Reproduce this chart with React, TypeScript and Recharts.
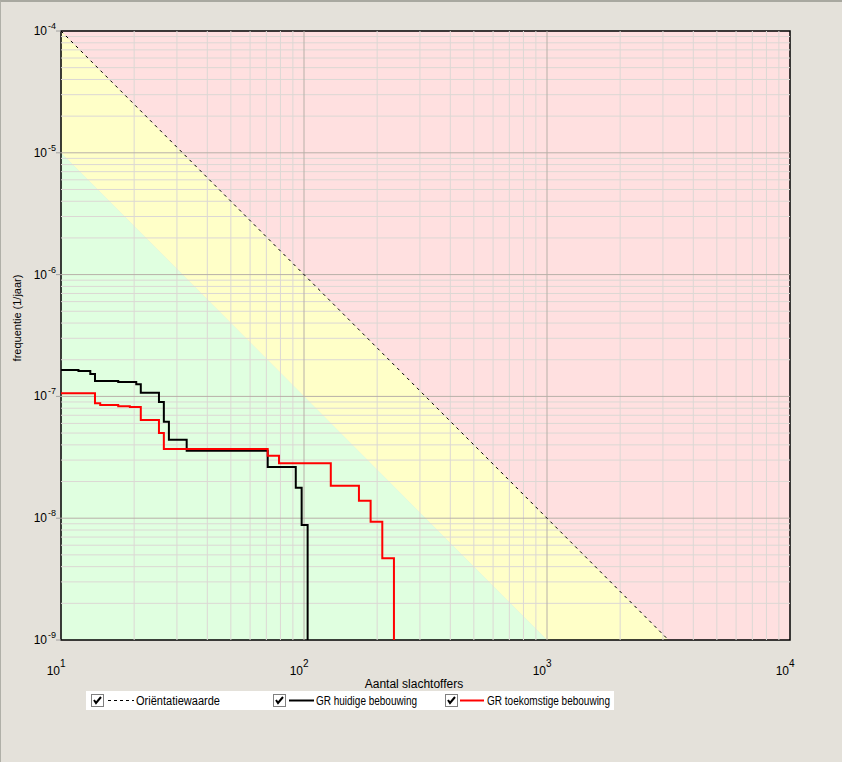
import React from 'react';
import { ComposedChart, Line, Area, XAxis, YAxis, ReferenceLine, ReferenceArea } from 'recharts';

// Zone boundaries (N, frequency)
const zoneN = [10, 10000];
const orientF = [1e-4, 1e-10];
const greenF = [1e-5, 1e-11];
const topF = [1e-4, 1e-4];
const floorF = [1e-9, 1e-9];

// GR huidige bebouwing (step)
const huidigeN = [10, 11.8, 13.2, 13.8, 17.2, 20.4, 21.3, 25.3, 26.5, 27.8, 32.9, 70.9, 92.5, 97.8, 103.5, 103.5];
const huidigeF = [1.65e-7, 1.62e-7, 1.53e-7, 1.34e-7, 1.31e-7, 1.26e-7, 1.07e-7, 9.0e-8, 6.2e-8, 4.4e-8, 3.58e-8, 2.63e-8, 1.78e-8, 8.8e-9, 8.8e-9, 1e-9];

// GR toekomstige bebouwing (step)
const toekomstN = [10, 13.8, 14.5, 17.2, 19.2, 21.3, 25.3, 26.5, 70.9, 78.9, 128.9, 168.3, 188, 210, 234.5, 234.5];
const toekomstF = [1.06e-7, 8.77e-8, 8.5e-8, 8.3e-8, 8.2e-8, 6.4e-8, 5.0e-8, 3.7e-8, 3.26e-8, 2.82e-8, 1.85e-8, 1.39e-8, 9.35e-9, 4.69e-9, 4.69e-9, 1e-9];

const xTicks = [10, 100, 1000, 10000];
const yTicks = [1e-9, 1e-8, 1e-7, 1e-6, 1e-5, 1e-4];
const xMinor = [20, 30, 40, 50, 60, 70, 80, 90, 200, 300, 400, 500, 600, 700, 800, 900, 2000, 3000, 4000, 5000, 6000, 7000, 8000, 9000];
const xMajor = [100, 1000];
const yMinor = [
  2e-9, 3e-9, 4e-9, 5e-9, 6e-9, 7e-9, 8e-9, 9e-9,
  2e-8, 3e-8, 4e-8, 5e-8, 6e-8, 7e-8, 8e-8, 9e-8,
  2e-7, 3e-7, 4e-7, 5e-7, 6e-7, 7e-7, 8e-7, 9e-7,
  2e-6, 3e-6, 4e-6, 5e-6, 6e-6, 7e-6, 8e-6, 9e-6,
  2e-5, 3e-5, 4e-5, 5e-5, 6e-5, 7e-5, 8e-5, 9e-5,
];
const yMajor = [1e-8, 1e-7, 1e-6, 1e-5];

const legendLabels = ['Oriëntatiewaarde', 'GR huidige bebouwing', 'GR toekomstige bebouwing'];

const pinkData = zoneN.map((n, i) => ({ n, r: [orientF[i], topF[i]] }));
const yellowData = zoneN.map((n, i) => ({ n, r: [greenF[i], orientF[i]] }));
const greenData = zoneN.map((n, i) => ({ n, r: [floorF[i], greenF[i]] }));
const orientData = zoneN.map((n, i) => ({ n, f: orientF[i] }));
const huidigeData = huidigeN.map((n, i) => ({ n, f: huidigeF[i] }));
const toekomstData = toekomstN.map((n, i) => ({ n, f: toekomstF[i] }));

const FONT = '"Liberation Sans", Arial, sans-serif';

const XTick = (props: any) => {
  const { x, payload } = props;
  const e = Math.round(Math.log10(payload.value));
  return (
    <g>
      <text x={x - 1} y={675} textAnchor="end" fontSize={12} fontFamily={FONT} fill="#000">10</text>
      <text x={x - 1} y={667} textAnchor="start" fontSize={10} fontFamily={FONT} fill="#000">{e}</text>
    </g>
  );
};

const YTick = (props: any) => {
  const { y, payload } = props;
  const e = Math.round(Math.log10(payload.value));
  return (
    <g>
      <line x1={56} x2={61} y1={y} y2={y} stroke="#a0a0a0" strokeWidth={1} />
      <text x={47} y={y + 4} textAnchor="end" fontSize={12} fontFamily={FONT} fill="#000">10</text>
      <text x={48} y={y - 2} textAnchor="start" fontSize={9} fontFamily={FONT} fill="#000">{e}</text>
    </g>
  );
};

const CheckBox = ({ x }: { x: number }) => (
  <g transform={`translate(${x},3)`}>
    <rect x={0.5} y={0.5} width={12} height={12} fill="#fff" stroke="#808080" />
    <path d="M3 6 L5 9 L10 3" stroke="#000" strokeWidth={2} fill="none" />
  </g>
);

const LegendBox = () => (
  <svg width={640} height={19} style={{ display: 'block', position: 'absolute', left: 86, top: 691, overflow: 'visible' }}>
    <rect x={0} y={0} width={528} height={19} fill="#fff" />
    <CheckBox x={5} />
    <line x1={22} x2={48} y1={9.5} y2={9.5} stroke="#000" strokeWidth={1} strokeDasharray="3 3" />
    <text x={50} y={14} fontSize={12} fontFamily={FONT} fill="#000" textLength={84} lengthAdjust="spacingAndGlyphs">{legendLabels[0]}</text>
    <CheckBox x={187} />
    <line x1={203} x2={228} y1={9.5} y2={9.5} stroke="#000" strokeWidth={2} />
    <text x={230} y={14} fontSize={12} fontFamily={FONT} fill="#000" textLength={101} lengthAdjust="spacingAndGlyphs">{legendLabels[1]}</text>
    <CheckBox x={359} />
    <line x1={374} x2={398} y1={9.5} y2={9.5} stroke="#ff0000" strokeWidth={2} />
    <text x={401} y={14} fontSize={12} fontFamily={FONT} fill="#000" textLength={123} lengthAdjust="spacingAndGlyphs">{legendLabels[2]}</text>
  </svg>
);

export default function App() {
  return (
    <div style={{ position: 'absolute', left: 0, top: 0, width: 842, height: 762, background: '#e4e1da', borderTop: '2px solid #a8a8a0', borderLeft: '1px solid #b0b0a8', boxSizing: 'border-box' }}>
      <div style={{ position: 'absolute', left: -1, top: -2 }}>
        <ComposedChart width={842} height={762} margin={{ top: 31, right: 52, bottom: 0, left: 0 }}>
          <XAxis
            dataKey="n"
            type="number"
            scale="log"
            domain={[10, 10000]}
            ticks={xTicks}
            allowDataOverflow
            height={122}
            axisLine={false}
            tickLine={false}
            tick={<XTick />}
            interval={0}
          />
          <YAxis
            type="number"
            scale="log"
            domain={[1e-9, 1e-4]}
            ticks={yTicks}
            allowDataOverflow
            width={61}
            axisLine={false}
            tickLine={false}
            tick={<YTick />}
            interval={0}
          />
          <Area data={pinkData} dataKey="r" type="linear" fill="#ffe0e0" fillOpacity={1} stroke="none" isAnimationActive={false} />
          <Area data={yellowData} dataKey="r" type="linear" fill="#ffffc8" fillOpacity={1} stroke="none" isAnimationActive={false} />
          <Area data={greenData} dataKey="r" type="linear" fill="#e0ffe0" fillOpacity={1} stroke="none" isAnimationActive={false} />
          {xMinor.map((v) => (
            <ReferenceLine key={'xm' + v} x={v} stroke="#dcd8d4" strokeWidth={1} />
          ))}
          {yMinor.map((v) => (
            <ReferenceLine key={'ym' + v} y={v} stroke="#dcd8d4" strokeWidth={1} />
          ))}
          {xMajor.map((v) => (
            <ReferenceLine key={'xM' + v} x={v} stroke="#b8b0a8" strokeWidth={1} />
          ))}
          {yMajor.map((v) => (
            <ReferenceLine key={'yM' + v} y={v} stroke="#b8b0a8" strokeWidth={1} />
          ))}
          <Line data={orientData} dataKey="f" type="linear" stroke="#000" strokeWidth={1} strokeDasharray="3 4" dot={false} isAnimationActive={false} />
          <Line data={huidigeData} dataKey="f" type="stepAfter" stroke="#000" strokeWidth={2} dot={false} isAnimationActive={false} />
          <Line data={toekomstData} dataKey="f" type="stepAfter" stroke="#ff0000" strokeWidth={2} dot={false} isAnimationActive={false} />
          <ReferenceArea x1={10} x2={10000} y1={1e-9} y2={1e-4} fill="none" stroke="#000" strokeWidth={1.5} fillOpacity={0} />
        </ComposedChart>
        <LegendBox />
        <div style={{ position: 'absolute', left: 414, top: 677, transform: 'translateX(-50%)', fontFamily: FONT, fontSize: 12, whiteSpace: 'nowrap', color: '#000' }}>
          Aantal slachtoffers
        </div>
        <div style={{ position: 'absolute', left: 17, top: 318, transform: 'translate(-50%,-50%) rotate(-90deg)', fontFamily: FONT, fontSize: 11, whiteSpace: 'nowrap', color: '#000' }}>
          frequentie (1/jaar)
        </div>
      </div>
    </div>
  );
}
